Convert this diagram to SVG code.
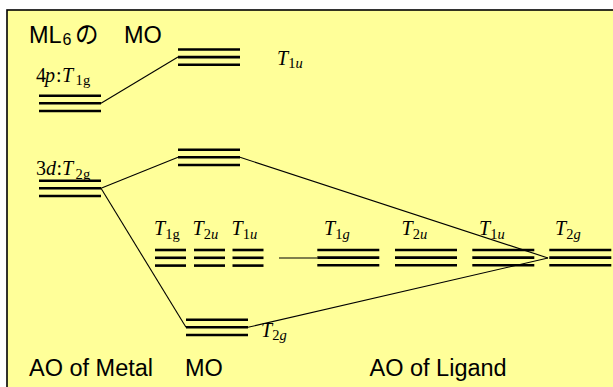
<svg xmlns="http://www.w3.org/2000/svg" width="613" height="387" viewBox="0 0 613 387">
<style>
.lv{stroke:#000;stroke-width:2.6;fill:none}
.cn{stroke:#000;stroke-width:1.1;fill:none}
.sans{font-family:"Liberation Sans","Noto Sans CJK JP",Arial,sans-serif;font-size:23.5px;fill:#000}
.ser{font-family:"Liberation Serif","Times New Roman",serif;font-size:20px;fill:#000}
.it{font-style:italic}
.sub{font-size:14.5px}
</style>
<defs>
<g id="lvA"><line class="lv" x1="0" y1="0" x2="62" y2="0"/><line class="lv" x1="0" y1="7.6" x2="62" y2="7.6"/><line class="lv" x1="0" y1="15.3" x2="62" y2="15.3"/></g>
<g id="lvS"><line class="lv" x1="0" y1="0" x2="31" y2="0"/><line class="lv" x1="0" y1="7.8" x2="31" y2="7.8"/><line class="lv" x1="0" y1="15.6" x2="31" y2="15.6"/></g>
</defs>
<rect x="7" y="10" width="630" height="400" fill="#FFFF99" stroke="#000" stroke-width="1.6"/>

<g id="title">
<text class="sans" y="43.3"><tspan x="29">ML</tspan><tspan x="62.5" dy="1.5" font-size="16">6</tspan><tspan x="75" dy="-1.5">の</tspan><tspan x="124">MO</tspan></text>
</g>

<g id="connectors">
<line class="cn" x1="101" y1="103.3" x2="178" y2="57"/>
<line class="cn" x1="101" y1="188.3" x2="178" y2="157.3"/>
<line class="cn" x1="101" y1="188.3" x2="186" y2="327.3"/>
<line class="cn" x1="240" y1="157.3" x2="548" y2="258"/>
<line class="cn" x1="248" y1="327.3" x2="548" y2="258"/>
<line class="cn" x1="279" y1="258" x2="317" y2="258"/>
</g>

<g id="metal-4p">
<use href="#lvA" x="39" y="95.7"/>
<text class="ser" y="81.7"><tspan x="36">4</tspan><tspan class="it" x="45">p</tspan><tspan x="56">:</tspan><tspan class="it" x="62">T</tspan><tspan class="sub" x="75.5" dy="3.5">1</tspan><tspan class="sub" x="83">g</tspan></text>
</g>
<g id="mo-t1u">
<use href="#lvA" x="178" y="49.5"/>
<text class="ser" x="277" y="64.5"><tspan class="it">T</tspan><tspan class="sub" dy="3.5">1</tspan><tspan class="sub it">u</tspan></text>
</g>
<g id="metal-3d">
<use href="#lvA" x="39" y="180.7"/>
<text class="ser" y="175"><tspan x="36">3</tspan><tspan class="it" x="46">d</tspan><tspan x="56.5">:</tspan><tspan class="it" x="62">T</tspan><tspan class="sub" x="75.5" dy="3.5">2</tspan><tspan class="sub" x="83">g</tspan></text>
</g>
<g id="mo-t2g-upper">
<use href="#lvA" x="178" y="149.7"/>
</g>
<g id="mo-t1g">
<use href="#lvS" x="155" y="250"/>
<text class="ser" x="154" y="235"><tspan class="it">T</tspan><tspan class="sub" dy="3.5">1g</tspan></text>
</g>
<g id="mo-t2u">
<use href="#lvS" x="194" y="250"/>
<text class="ser" x="192.5" y="235"><tspan class="it">T</tspan><tspan class="sub" dy="3.5">2</tspan><tspan class="sub it">u</tspan></text>
</g>
<g id="mo-t1u-mid">
<use href="#lvS" x="232.5" y="250"/>
<text class="ser" x="231.5" y="235"><tspan class="it">T</tspan><tspan class="sub" dy="3.5">1</tspan><tspan class="sub it">u</tspan></text>
</g>
<g id="mo-t2g-lower">
<use href="#lvA" x="186" y="319.7"/>
<text class="ser" x="261" y="336.7"><tspan class="it">T</tspan><tspan class="sub" dy="3.5">2</tspan><tspan class="sub it">g</tspan></text>
</g>
<g id="lig-t1g">
<use href="#lvA" x="317.3" y="250"/>
<text class="ser" x="324" y="235"><tspan class="it">T</tspan><tspan class="sub" dy="3.5">1</tspan><tspan class="sub it">g</tspan></text>
</g>
<g id="lig-t2u">
<use href="#lvA" x="395" y="250"/>
<text class="ser" x="401.5" y="235"><tspan class="it">T</tspan><tspan class="sub" dy="3.5">2</tspan><tspan class="sub it">u</tspan></text>
</g>
<g id="lig-t1u">
<use href="#lvA" x="472.3" y="250"/>
<text class="ser" x="479" y="235"><tspan class="it">T</tspan><tspan class="sub" dy="3.5">1</tspan><tspan class="sub it">u</tspan></text>
</g>
<g id="lig-t2g">
<use href="#lvA" x="549.3" y="250"/>
<text class="ser" x="555" y="235"><tspan class="it">T</tspan><tspan class="sub" dy="3.5">2</tspan><tspan class="sub it">g</tspan></text>
</g>

<g id="footer">
<text class="sans" x="29" y="375.7">AO of Metal</text>
<text class="sans" x="185" y="375.7">MO</text>
<text class="sans" x="369.5" y="375.7">AO of Ligand</text>
</g>
</svg>
